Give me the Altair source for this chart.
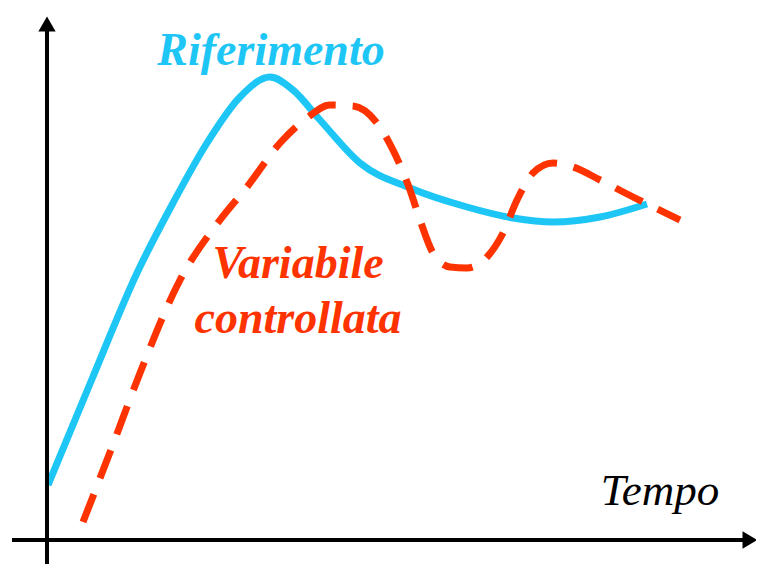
import altair as alt
import pandas as pd

# data units: time (x) and value (y), origin where the axes cross
ref_t = [1, 45, 90, 126, 160, 193, 223, 246, 273, 313, 363, 420, 466, 506, 553, 600]
ref_v = [55, 161, 267, 337, 397, 443, 463, 450, 420, 377, 352, 333, 322, 318, 323, 336]

ctl_t = [36, 65, 93, 133, 173, 200, 233, 260, 283, 306, 330, 346, 363, 373, 386, 403, 420,
         440, 456, 470, 486, 506, 526, 553, 586, 633]
ctl_v = [18, 93, 167, 260, 320, 353, 397, 422, 435, 434, 417, 390, 350, 320, 287, 273, 272,
         283, 307, 340, 367, 377, 373, 360, 343, 320]

labels = ["Riferimento", "Variabile", "controllata"]
label_t = [224, 251, 251]
label_v = [475, 262, 207]
label_color = ["#1EC6F6", "#FF3300", "#FF3300"]

axis_label = "Tempo"

X_DOM = [-39, 709]
Y_DOM = [-24, 532]

xs = alt.Scale(domain=X_DOM, nice=False, zero=False)
ys = alt.Scale(domain=Y_DOM, nice=False, zero=False)

ref_df = pd.DataFrame({"t": ref_t, "v": ref_v})
ctl_df = pd.DataFrame({"t": ctl_t, "v": ctl_v})
lab_df = pd.DataFrame({"t": label_t, "v": label_v, "text": labels, "c": label_color})

# axes as arrows
xaxis_df = pd.DataFrame({"t": [-35], "t2": [700], "v": [0]})
yaxis_df = pd.DataFrame({"t": [0], "v": [-40], "v2": [512]})
xhead_df = pd.DataFrame({"t": [703], "v": [0]})
yhead_df = pd.DataFrame({"t": [0], "v": [516]})

xaxis = alt.Chart(xaxis_df).mark_rule(color="black", strokeWidth=4).encode(
    x=alt.X("t:Q", scale=xs, axis=None), x2="t2:Q", y=alt.Y("v:Q", scale=ys, axis=None))
yaxis = alt.Chart(yaxis_df).mark_rule(color="black", strokeWidth=4).encode(
    x=alt.X("t:Q", scale=xs, axis=None), y=alt.Y("v:Q", scale=ys, axis=None), y2="v2:Q")
xhead = alt.Chart(xhead_df).mark_point(shape="triangle-right", filled=True, color="black",
                                       size=300, opacity=1).encode(
    x=alt.X("t:Q", scale=xs, axis=None), y=alt.Y("v:Q", scale=ys, axis=None))
yhead = alt.Chart(yhead_df).mark_point(shape="triangle-up", filled=True, color="black",
                                       size=300, opacity=1).encode(
    x=alt.X("t:Q", scale=xs, axis=None), y=alt.Y("v:Q", scale=ys, axis=None))

ref_line = alt.Chart(ref_df).mark_line(color="#1EC6F6", strokeWidth=7, interpolate="monotone",
                                       strokeCap="butt").encode(
    x=alt.X("t:Q", scale=xs, axis=None), y=alt.Y("v:Q", scale=ys, axis=None))
ctl_line = alt.Chart(ctl_df).mark_line(color="#FF3300", strokeWidth=7, interpolate="monotone",
                                       strokeDash=[30, 17], strokeCap="butt").encode(
    x=alt.X("t:Q", scale=xs, axis=None), y=alt.Y("v:Q", scale=ys, axis=None))

texts = alt.Chart(lab_df).mark_text(font="Liberation Serif", fontSize=46, fontStyle="italic",
                                    fontWeight="bold", align="center", baseline="alphabetic").encode(
    x=alt.X("t:Q", scale=xs, axis=None), y=alt.Y("v:Q", scale=ys, axis=None),
    text="text:N", color=alt.Color("c:N", scale=None))

tempo = alt.Chart(pd.DataFrame({"t": [613], "v": [35], "text": [axis_label]})).mark_text(
    font="Liberation Serif", fontSize=45, fontStyle="italic", align="center",
    baseline="alphabetic", color="black").encode(
    x=alt.X("t:Q", scale=xs, axis=None), y=alt.Y("v:Q", scale=ys, axis=None), text="text:N")

chart = alt.layer(ref_line, ctl_line, xaxis, yaxis, xhead, yhead, texts, tempo).properties(
    width=748, height=556, autosize=alt.AutoSizeParams(type="none"), padding=0,
    background="white"
).configure_view(stroke=None)

chart.save("out.html", embed_options={"renderer": "svg", "actions": False})
